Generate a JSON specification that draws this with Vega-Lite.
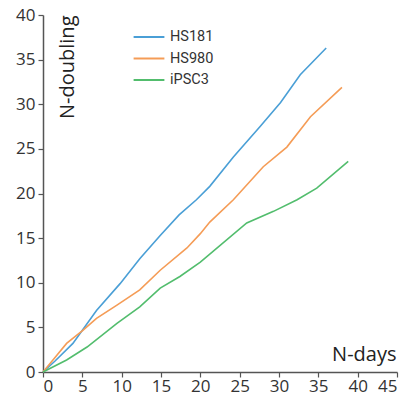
{
  "$schema": "https://vega.github.io/schema/vega-lite/v6.json",
  "autosize": "none",
  "padding": {"left": 43, "top": 15, "right": 9, "bottom": 29},
  "width": 354,
  "height": 357,
  "background": "white",
  "config": {"view": {"stroke": null}},
  "data": {"values": [
    {"line": "HS181", "days": 0, "nd": 0},
    {"line": "HS181", "days": 1.5, "nd": 1.2},
    {"line": "HS181", "days": 3.8, "nd": 3.2},
    {"line": "HS181", "days": 6.8, "nd": 6.9},
    {"line": "HS181", "days": 9.8, "nd": 9.9},
    {"line": "HS181", "days": 12.3, "nd": 12.7},
    {"line": "HS181", "days": 14.9, "nd": 15.3},
    {"line": "HS181", "days": 17.3, "nd": 17.6},
    {"line": "HS181", "days": 19.5, "nd": 19.3},
    {"line": "HS181", "days": 21.2, "nd": 20.8},
    {"line": "HS181", "days": 24.2, "nd": 24.1},
    {"line": "HS181", "days": 27.6, "nd": 27.5},
    {"line": "HS181", "days": 30.2, "nd": 30.2},
    {"line": "HS181", "days": 32.7, "nd": 33.3},
    {"line": "HS181", "days": 36.0, "nd": 36.3},
    {"line": "HS980", "days": 0, "nd": 0},
    {"line": "HS980", "days": 1.5, "nd": 1.6},
    {"line": "HS980", "days": 3.0, "nd": 3.2},
    {"line": "HS980", "days": 5.1, "nd": 4.7},
    {"line": "HS980", "days": 6.8, "nd": 6.0},
    {"line": "HS980", "days": 9.4, "nd": 7.5},
    {"line": "HS980", "days": 12.3, "nd": 9.2},
    {"line": "HS980", "days": 14.9, "nd": 11.4},
    {"line": "HS980", "days": 18.3, "nd": 13.9},
    {"line": "HS980", "days": 20.0, "nd": 15.5},
    {"line": "HS980", "days": 21.2, "nd": 16.8},
    {"line": "HS980", "days": 24.2, "nd": 19.3},
    {"line": "HS980", "days": 28.0, "nd": 23.0},
    {"line": "HS980", "days": 31.0, "nd": 25.2},
    {"line": "HS980", "days": 34.0, "nd": 28.6},
    {"line": "HS980", "days": 38.0, "nd": 31.9},
    {"line": "iPSC3", "days": 0, "nd": 0},
    {"line": "iPSC3", "days": 3.0, "nd": 1.35},
    {"line": "iPSC3", "days": 5.6, "nd": 2.8},
    {"line": "iPSC3", "days": 9.4, "nd": 5.45},
    {"line": "iPSC3", "days": 12.3, "nd": 7.3},
    {"line": "iPSC3", "days": 14.9, "nd": 9.4},
    {"line": "iPSC3", "days": 17.4, "nd": 10.7},
    {"line": "iPSC3", "days": 20.0, "nd": 12.3},
    {"line": "iPSC3", "days": 25.9, "nd": 16.7},
    {"line": "iPSC3", "days": 29.3, "nd": 18.0},
    {"line": "iPSC3", "days": 32.3, "nd": 19.3},
    {"line": "iPSC3", "days": 34.8, "nd": 20.6},
    {"line": "iPSC3", "days": 38.8, "nd": 23.6}
  ]},
  "mark": {"type": "line", "strokeWidth": 1.6},
  "encoding": {
    "x": {
      "field": "days", "type": "quantitative",
      "scale": {"domain": [0, 45], "nice": false},
      "axis": {
        "values": [0, 5, 10, 15, 20, 25, 30, 35, 40, 45],
        "title": "N-days", "grid": false,
        "domainColor": "#555", "domainWidth": 1.5,
        "tickColor": "#555", "tickWidth": 1.2, "tickSize": 5,
        "labelFont": "Open Sans", "labelFontSize": 17, "labelColor": "#333", "labelPadding": 1,
        "titleFont": "Open Sans", "titleFontSize": 20, "titleFontWeight": "normal", "titleColor": "#222",
        "titleX": 353, "titleY": -12, "titleAlign": "right", "titleBaseline": "alphabetic",
        "labelOverlap": false
      }
    },
    "y": {
      "field": "nd", "type": "quantitative",
      "scale": {"domain": [0, 40], "nice": false},
      "axis": {
        "values": [0, 5, 10, 15, 20, 25, 30, 35, 40],
        "title": "N-doubling", "grid": false,
        "domainColor": "#555", "domainWidth": 1.5,
        "tickColor": "#555", "tickWidth": 1.2, "tickSize": 5,
        "labelFont": "Open Sans", "labelFontSize": 17, "labelColor": "#333", "labelPadding": 3,
        "titleFont": "Open Sans", "titleFontSize": 20, "titleFontWeight": 500, "titleColor": "#222",
        "titleAngle": 270, "titleX": 24, "titleY": 0, "titleAlign": "right", "titleBaseline": "middle",
        "labelOverlap": false
      }
    },
    "color": {
      "field": "line", "type": "nominal",
      "scale": {"domain": ["HS181", "HS980", "iPSC3"], "range": ["#4a9fd6", "#f59c56", "#52bd6d"]},
      "legend": {
        "title": null, "orient": "none", "legendX": 98, "legendY": 14,
        "symbolType": "M-2.2,0H2.2", "symbolSize": 196, "symbolStrokeWidth": 2,
        "labelFont": "Roboto", "labelFontSize": 14.5, "labelColor": "#333",
        "labelOffset": 13, "rowPadding": 6.5
      }
    }
  }
}
